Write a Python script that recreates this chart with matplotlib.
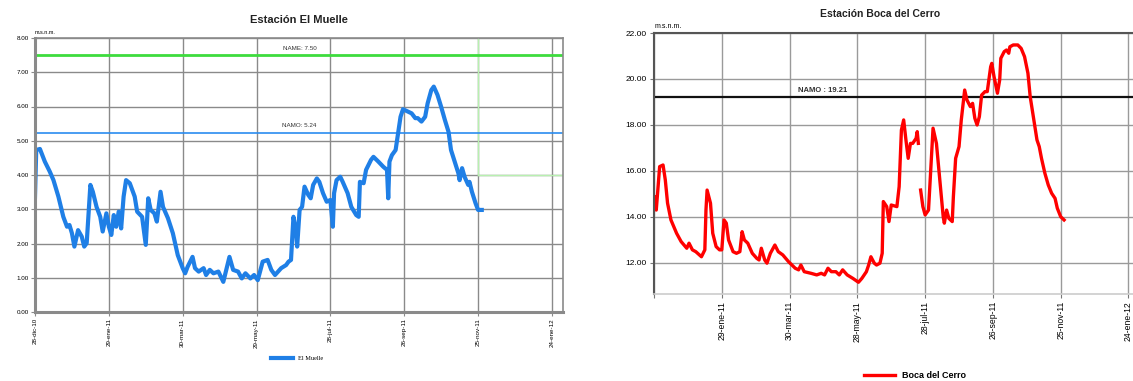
#!/usr/bin/env python3
"""
Niveles de agua: Estacion El Muelle y Estacion Boca del Cerro
"""
import numpy as np
import matplotlib
matplotlib.use("Agg")
import matplotlib.pyplot as plt

plt.rcParams['font.family'] = ['Liberation Sans', 'DejaVu Sans']

# --- El Muelle (days since first tick, m.s.n.m.) ---
muelle_days = [0, 1, 4, 8, 12, 15, 19, 23, 26, 28, 30, 32, 35, 38, 40, 42, 45, 47, 50,
               53, 55, 58, 60, 62, 64, 66, 68, 70, 72, 74, 77, 81, 83, 87, 90, 92, 94,
               97, 99, 102, 104, 108, 112, 116, 120, 122, 124, 128, 130, 133, 137, 139,
               142, 145, 149, 153, 158, 161, 165, 168, 171, 175, 178, 181, 185, 189,
               192, 195, 200, 204, 206, 208, 210, 212, 213, 215, 217, 219, 222, 224,
               226, 229, 231, 234, 237, 240, 242, 243, 245, 248, 250, 254, 257, 261,
               263, 264, 267, 269, 273, 275, 279, 283, 286, 287, 288, 290, 293, 295,
               297, 299, 303, 306, 309, 311, 314, 317, 319, 322, 324, 327, 330, 333,
               336, 338, 341, 344, 345, 347, 349, 352, 353, 355, 358, 360, 363]
muelle_vals = [3.37, 4.73, 4.76, 4.39, 4.10, 3.85, 3.37, 2.78, 2.49, 2.54, 2.30, 1.91,
               2.39, 2.20, 1.91, 2.01, 3.71, 3.51, 3.07, 2.78, 2.35, 2.88, 2.49, 2.25,
               2.83, 2.49, 2.93, 2.44, 3.37, 3.85, 3.76, 3.37, 2.93, 2.78, 1.96, 3.32,
               2.98, 2.88, 2.64, 3.51, 3.07, 2.74, 2.30, 1.66, 1.28, 1.13, 1.32, 1.61,
               1.28, 1.18, 1.28, 1.08, 1.23, 1.13, 1.18, 0.88, 1.61, 1.23, 1.18, 0.98,
               1.13, 0.98, 1.08, 0.93, 1.47, 1.52, 1.23, 1.08, 1.28, 1.37, 1.47, 1.52,
               2.78, 2.39, 1.91, 2.98, 3.07, 3.66, 3.42, 3.32, 3.71, 3.90, 3.80, 3.47,
               3.22, 3.27, 2.49, 3.47, 3.85, 3.95, 3.80, 3.47, 3.07, 2.83, 2.78, 3.80,
               3.76, 4.15, 4.44, 4.53, 4.39, 4.24, 4.15, 3.32, 4.39, 4.58, 4.73, 5.22,
               5.70, 5.92, 5.85, 5.80, 5.66, 5.66, 5.56, 5.70, 6.09, 6.48, 6.58, 6.34,
               5.99, 5.61, 5.26, 4.73, 4.39, 4.05, 3.85, 4.20, 3.95, 3.71, 3.80, 3.51,
               3.17, 2.98, 2.98]
muelle_name = 7.50
muelle_namo = 5.24

# --- Boca del Cerro (days since first tick, m.s.n.m.); NaN = hueco en registro ---
boca_days = [1, 2, 5, 8, 10, 12, 15, 20, 24, 29, 31, 34, 37, 42, 45, 46, 47, 50, 52,
             55, 58, 60, 62, 64, 66, 70, 73, 76, 78, 80, 83, 87, 91, 93, 95, 98, 100,
             103, 107, 110, 114, 119, 125, 128, 130, 133, 139, 144, 148, 151, 154,
             157, 161, 164, 167, 171, 176, 181, 184, 188, 190, 192, 195, 197, 200,
             202, 203, 206, 208, 210, 215, 217, 219, 221, 223, 225, 227, 229, 232,
             233, 234, 235, 236, 238, 240, 243, 245, 247, 250, 253, 256, 257, 259,
             261, 264, 265, 267, 270, 272, 275, 277, 280, 282, 284, 286, 288, 290,
             293, 295, 298, 299, 301, 304, 306, 307, 310, 312, 314, 315, 318, 322,
             325, 328, 331, 333, 336, 339, 341, 343, 346, 349, 352, 355, 357, 360,
             363]
boca_vals = [14.88, 14.30, 16.19, 16.26, 15.61, 14.60, 13.87, 13.29, 12.93, 12.64,
             12.86, 12.57, 12.49, 12.27, 12.57, 14.30, 15.17, 14.60, 13.29, 12.71,
             12.57, 12.57, 13.87, 13.73, 13.00, 12.49, 12.42, 12.49, 13.36, 13.00,
             12.86, 12.42, 12.20, 12.13, 12.64, 12.13, 11.99, 12.42, 12.78, 12.49,
             12.35, 12.06, 11.77, 11.70, 11.91, 11.62, 11.55, 11.48, 11.55, 11.48,
             11.77, 11.62, 11.62, 11.48, 11.70, 11.48, 11.33, 11.16, 11.33, 11.62,
             11.91, 12.27, 11.99, 11.91, 11.99, 12.42, 14.67, 14.45, 13.80, 14.52,
             14.45, 15.32, 17.78, 18.22, 17.35, 16.55, 17.20, 17.20, 17.42, 17.71,
             17.20, np.nan, 15.17, 14.45, 14.09, 14.30, 16.04, 17.86, 17.20, 15.61,
             14.01, 13.73, 14.30, 13.94, 13.80, 14.88, 16.55, 17.06, 18.22, 19.52,
             19.09, 18.80, 18.94, 18.29, 18.00, 18.36, 19.30, 19.45, 19.45, 20.53,
             20.68, 20.10, 19.38, 19.96, 20.90, 21.19, 21.26, 21.12, 21.40, 21.48,
             21.48, 21.33, 20.97, 20.25, 19.23, 18.29, 17.35, 17.06, 16.55, 15.90,
             15.39, 15.03, 14.81, 14.38, 14.01, 13.87]
boca_namo = 19.21

tick_days = [0, 60, 120, 180, 240, 300, 360, 420]
muelle_labels = ["28-dic-10", "29-ene-11", "30-mar-11", "29-may-11",
                 "28-jul-11", "26-sep-11", "25-nov-11", "24-ene-12"]
boca_labels = ["", "29-ene-11", "30-mar-11", "28-may-11",
               "28-jul-11", "26-sep-11", "25-nov-11", "24-ene-12"]

W, H = 1133, 381
fig = plt.figure(figsize=(W / 100, H / 100), dpi=100)

# ---------------- El Muelle ----------------
ax1 = fig.add_axes([35 / W, 1 - 312 / H, (563 - 35) / W, (312 - 38) / H])
ax1.set_xlim(0, 429)
ax1.set_ylim(0, 8)
ax1.set_yticks(np.arange(0, 9, 1))
ax1.set_yticklabels([f"{v:.2f}" for v in range(9)], fontsize=4.5)
ax1.set_xticks(tick_days)
ax1.set_xticklabels(muelle_labels, rotation=90, fontsize=4.5)
ax1.grid(True, color='#8a8a8a', linewidth=1.0)
ax1.set_axisbelow(True)
for side in ['top', 'right']:
    ax1.spines[side].set_color('#8a8a8a')
    ax1.spines[side].set_linewidth(1.2)
for side in ['left', 'bottom']:
    ax1.spines[side].set_color('#8a8a8a')
    ax1.spines[side].set_linewidth(2.2)
ax1.tick_params(length=3, width=0.8, color='#8a8a8a', pad=1.5)

# verde claro, marcador de fecha
ax1.plot([360, 360], [4, 8], color='#b8f0b0', linewidth=1.0, zorder=1.5)
ax1.plot([360, 429], [4, 4], color='#b8f0b0', linewidth=1.0, zorder=1.5)

ax1.axhline(muelle_name, color='#3ddc3d', linewidth=2.0)
ax1.axhline(muelle_namo, color='#2a8cf0', linewidth=1.2)
ax1.text(215, muelle_name + 0.13, f"NAME: {muelle_name:.2f}", fontsize=4.5,
         ha='center', va='bottom', color='#333333')
ax1.text(215, muelle_namo + 0.12, f"NAMO: {muelle_namo:.2f}", fontsize=4.5,
         ha='center', va='bottom', color='#333333')
l1, = ax1.plot(muelle_days, muelle_vals, color='#1f7fe6', linewidth=3.0,
               solid_joinstyle='round', label='El Muelle')

fig.text(299 / W, 1 - 20 / H, "Estación El Muelle", fontsize=8,
         fontweight='bold', ha='center', va='center', color='#222222')
fig.text(35 / W, 1 - 32 / H, "m.s.n.m.", fontsize=4, ha='left', va='center')
fig.legend(handles=[l1], loc='center', bbox_to_anchor=(297 / W, 1 - 358 / H),
           frameon=False, handlelength=3.5,
           prop={'family': 'Liberation Serif', 'size': 4.5})

# ---------------- Boca del Cerro ----------------
ax2 = fig.add_axes([654 / W, 1 - 294 / H, (W - 654) / W, (294 - 33) / H])
ax2.set_xlim(0, 424)
ax2.set_ylim(10.65, 22)
ax2.set_yticks(np.arange(12, 23, 2))
ax2.set_yticklabels([f"{v:.2f}" for v in range(12, 23, 2)], fontsize=6)
ax2.set_xticks(tick_days)
ax2.set_xticklabels(boca_labels, rotation=90, fontsize=6.2)
ax2.grid(True, color='#9a9a9a', linewidth=1.0)
ax2.set_axisbelow(True)
ax2.spines['top'].set_color('#555555')
ax2.spines['top'].set_linewidth(1.5)
ax2.spines['right'].set_visible(False)
ax2.spines['left'].set_color('#555555')
ax2.spines['left'].set_linewidth(1.5)
ax2.spines['bottom'].set_color('#cccccc')
ax2.spines['bottom'].set_linewidth(1.2)
ax2.tick_params(length=3, width=0.8, color='#777777', pad=2)

ax2.axhline(boca_namo, color='#111111', linewidth=1.6)
ax2.text(149, boca_namo + 0.15, f"NAMO : {boca_namo:.2f}", fontsize=5.5,
         fontweight='bold', ha='center', va='bottom', color='#333333')
l2, = ax2.plot(boca_days, boca_vals, color='#ff0000', linewidth=2.4,
               solid_joinstyle='round', label='Boca del Cerro')

fig.text(880 / W, 1 - 14 / H, "Estación Boca del Cerro", fontsize=7.5,
         fontweight='bold', ha='center', va='center', color='#222222')
fig.text(655 / W, 1 - 26 / H, "m.s.n.m.", fontsize=5, ha='left', va='center')
fig.legend(handles=[l2], loc='center', bbox_to_anchor=(915 / W, 1 - 376 / H),
           frameon=False, handlelength=3.5,
           prop={'size': 6.5, 'weight': 'bold'})

fig.savefig("out.png", dpi=100)
plt.close(fig)
